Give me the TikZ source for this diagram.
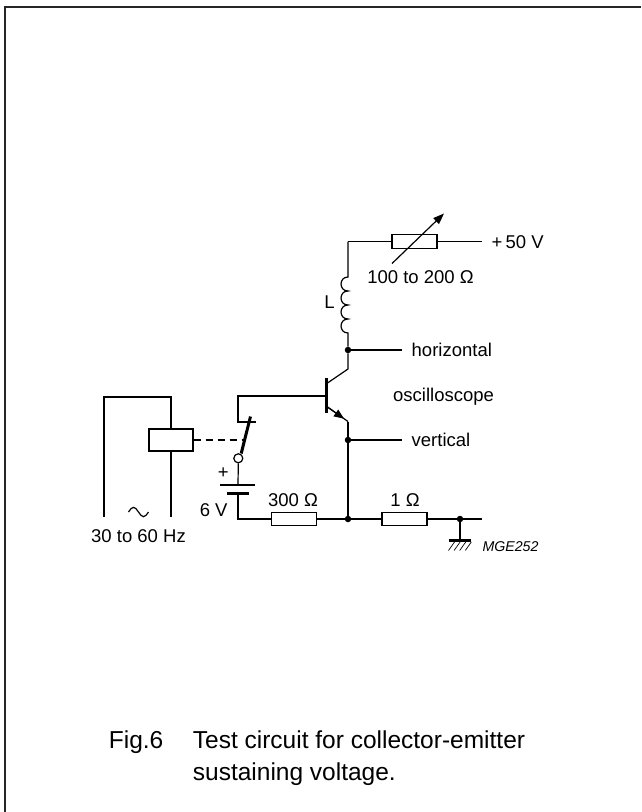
\documentclass[tikz,border=0pt]{standalone}
\usepackage{fontspec}
\setmainfont{Liberation Sans}
\usetikzlibrary{arrows.meta}
\begin{document}
\begin{tikzpicture}[x=1pt,y=-1pt,
  wire/.style={line width=1.2pt},
  res/.style={draw, line width=1.2pt, rectangle, minimum width=45pt, minimum height=13.5pt, inner sep=0pt},
  jdot/.style={circle, fill=black, inner sep=0pt, minimum size=6.5pt},
  lbl/.style={font=\fontsize{18.5}{22}\selectfont, inner sep=0pt, text height=13.25pt, text depth=0pt},
  caption/.style={font=\fontsize{24.5}{31.7}\selectfont, inner sep=0pt},
  thickplate/.style={line width=3.2pt}
]
\useasboundingbox (0,0) rectangle (641,812);
% frame
\coordinate (fBL) at (4.7,812);
\coordinate (fTL) at (4.7,7.3);
\coordinate (fTR) at (641,7.3);
\draw[line width=2pt, black!85] (fBL) -- (fTL) -- (fTR);

% top branch with variable resistor
\node[res] (R1) at (414.5,241.5) {};
\coordinate (topL) at (348,241.5);
\coordinate (topR) at (482,241.5);
\draw[wire] (topL) -- (R1.west);
\draw[wire] (R1.east) -- (topR);
\coordinate (arrS) at (392,263.5);
\coordinate (arrE) at (444,213.5);
\draw[wire, -{Triangle[length=11pt,width=8pt]}] (arrS) -- (arrE);
\node[lbl, anchor=west] (v50) at (491.5,242) {+\,50 V};
\node[lbl] (rv) at (420.5,277) {100 to 200 Ω};

% inductor
\coordinate (Ltop) at (348,277);
\node[jdot] (jH) at (348,350) {};
\draw[wire] (topL) -- (Ltop)
  .. controls (338.7,277) and (338.7,291) .. (348,291)
  .. controls (338.7,291) and (338.7,305) .. (348,305)
  .. controls (338.7,305) and (338.7,319) .. (348,319)
  .. controls (338.7,319) and (338.7,333) .. (348,333)
  -- (jH);
\node[lbl] (Llab) at (329.5,301.5) {L};

% horizontal output
\coordinate (hEnd) at (402,350);
\draw[wire] (jH) -- (hEnd);
\node[lbl, anchor=west] (hlab) at (411.5,350) {horizontal};
\node[lbl, anchor=west] (olab) at (393,394.7) {oscilloscope};

% transistor
\coordinate (C1) at (348,369);
\coordinate (Bc) at (327.5,383);
\coordinate (BT) at (326,378);
\coordinate (BB) at (326,413);
\coordinate (Bm) at (326,396);
\coordinate (Be) at (327.5,407);
\coordinate (E1) at (348,421.5);
\coordinate (Etip) at (344,418.7);
\draw[wire] (jH) -- (C1) -- (Bc);
\draw[line width=3pt] (BT) -- (BB);
\draw[wire] (Be) -- (E1);
\draw[wire, -{Triangle[length=10pt,width=8pt]}] (Be) -- (Etip);

% vertical output & emitter line
\node[jdot] (jV) at (348,440) {};
\node[jdot] (jB) at (348,519) {};
\coordinate (vEnd) at (402,440);
\draw[wire] (E1) -- (jV) -- (jB);
\draw[wire] (jV) -- (vEnd);
\node[lbl, anchor=west] (vlab) at (411.5,440) {vertical};

% base circuit and switch
\coordinate (sw1) at (238,396);
\coordinate (sw2) at (238,422);
\coordinate (sw3) at (256,422);
\draw[wire] (Bm) -- (sw1) -- (sw2) -- (sw3);
\coordinate (bladeT) at (250.5,416.5);
\coordinate (bladeB) at (241.2,453.5);
\draw[line width=3pt] (bladeT) -- (bladeB);
\node[circle, draw, line width=1.2pt, fill=white, minimum size=9pt, inner sep=0pt] (pivot) at (238.3,458.3) {};

% battery
\coordinate (batP) at (238,485);
\coordinate (bpL) at (220,485);
\coordinate (bpR) at (255,485);
\coordinate (bnL) at (227,493.5);
\coordinate (bnR) at (249,493.5);
\coordinate (batN) at (238,493.5);
\coordinate (batC) at (238,519);
\draw[wire] (pivot.south) -- (batP);
\draw[wire] (bpL) -- (bpR);
\draw[thickplate] (bnL) -- (bnR);
\node (plus) at (223.3,473.3) {\fontsize{18.5}{22}\selectfont +};
\node[lbl] (v6) at (213.7,510) {6 V};

% bottom rail
\node[res] (R2) at (294,519) {};
\node[res] (R3) at (404.5,519) {};
\node[jdot] (jG) at (460,519) {};
\coordinate (endR) at (482,519);
\draw[wire] (batN) -- (batC) -- (R2.west);
\draw[wire] (R2.east) -- (jB) -- (R3.west);
\draw[wire] (R3.east) -- (jG) -- (endR);
\node[lbl] (r300) at (293,500) {300 Ω};
\node[lbl] (r1) at (405,500) {1 Ω};

% ground
\coordinate (gnd) at (460,540.5);
\coordinate (gL) at (448.5,540.5);
\coordinate (gR) at (471,540.5);
\draw[wire] (jG) -- (gnd);
\draw[line width=3pt] (gL) -- (gR);
\foreach \i in {0,1,2,3} {
  \draw[line width=0.7pt] (448.5+5.6*\i,550.5) -- (454.5+5.6*\i,542);
}
\node[font=\fontsize{14.2}{17}\selectfont\itshape, inner sep=0pt, anchor=west] (mge) at (482.3,546.7) {MGE252};

% relay driver
\node[draw, line width=1.2pt, rectangle, minimum width=44pt, minimum height=22pt, inner sep=0pt] (relay) at (171,440) {};
\coordinate (rl1) at (171,397);
\coordinate (rl2) at (104,397);
\coordinate (rl3) at (104,517);
\coordinate (rl4) at (171,517);
\draw[wire] (relay.north) -- (rl1) -- (rl2) -- (rl3);
\draw[wire] (relay.south) -- (rl4);
\coordinate (dashE) at (244.5,440);
\draw[wire, dash pattern=on 7pt off 5pt] (relay.east) -- (dashE);
% sine symbol
\draw[wire] (128.5,512) sin (133.5,507.3) cos (138.5,512) sin (143.5,516.7) cos (148.5,512);
\node[lbl] (hz) at (138.5,536) {30 to 60 Hz};

% caption
\node[caption, anchor=base west] (fig) at (108.7,748.8) {Fig.6};
\node[caption, anchor=base west] (cap1) at (192.7,748.8) {Test circuit for collector-emitter};
\node[caption, anchor=base west] (cap2) at (192.7,780.5) {sustaining voltage.};
\end{tikzpicture}
\end{document}
